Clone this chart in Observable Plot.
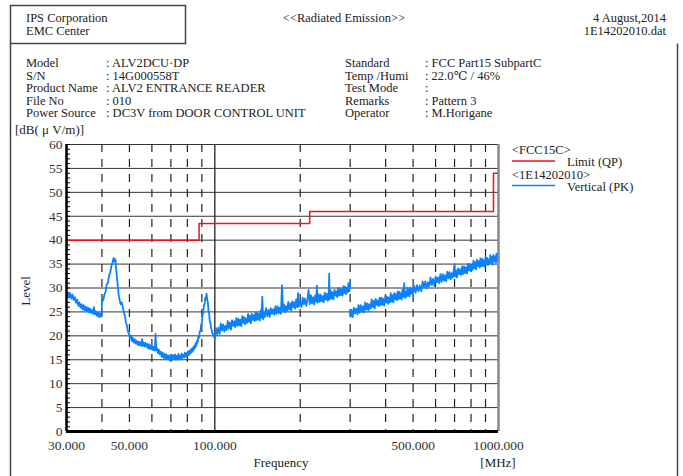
<!DOCTYPE html>
<html>
<head>
<meta charset="utf-8">
<script src="https://cdn.jsdelivr.net/npm/d3@7"></script>
<script src="https://cdn.jsdelivr.net/npm/@observablehq/plot@0.6"></script>
<style>
  html, body { margin: 0; padding: 0; background: #fff; }
  #chart svg { display: block; }
  #chart svg, #chart svg text { font-family: "Times New Roman", "Liberation Serif", Times, "DejaVu Serif", serif !important; }
</style>
</head>
<body>
<div id="chart"></div>
<script>
// ---- Axis ticks ----
const xTickValues = [30, 50, 100, 500, 1000];
const xDashedGrid = [40, 50, 60, 70, 80, 90, 200, 300, 400, 500, 600, 700, 800, 900];
const xSolidGrid = [100];
const yMajor = [0, 5, 10, 15, 20, 25, 30, 35, 40, 45, 50, 55, 60];
const yMinor = d3.range(0, 61, 1);

// ---- FCC Part 15 limit (QP), dBuV/m, held from each frequency to the next ----
const limitFreq = [30, 88, 216, 960, 1000];
const limitLevel = [40, 43.5, 46, 54, 54];

// ---- Vertical (PK) sweep, 30-300 MHz band: [MHz, dBuV/m] ----
const sweepLow = [
  [30.0, 28.2], [30.3, 29.1], [30.6, 28.0], [30.9, 28.9], [31.2, 27.8], [31.5, 28.6],
  [31.8, 27.5], [32.1, 28.1], [32.4, 26.9], [32.7, 27.6], [33.0, 26.3], [33.3, 27.0],
  [33.6, 25.9], [33.9, 26.6], [34.2, 25.5], [34.5, 26.4], [34.8, 25.3], [35.1, 26.1],
  [35.4, 25.2], [35.7, 25.9], [36.0, 24.9], [36.3, 25.7], [36.6, 24.8], [36.9, 25.4],
  [37.2, 24.6], [37.5, 26.0], [37.8, 24.5], [38.1, 25.1], [38.4, 24.2], [38.7, 24.9],
  [39.0, 23.9], [39.3, 24.7], [39.6, 24.0], [39.9, 24.6], [40.05, 27.9], [40.4, 27.4],
  [40.8, 28.6], [41.2, 29.2], [41.6, 30.8], [42.0, 31.1], [42.4, 32.7], [42.8, 33.3],
  [43.2, 34.6], [43.6, 35.4], [44.0, 36.3], [44.3, 35.5], [44.6, 36.0], [45.0, 33.4],
  [45.4, 31.0], [45.8, 28.6], [46.2, 27.4], [46.6, 26.6], [47.0, 27.0], [47.4, 25.9],
  [47.8, 25.0], [48.2, 24.1], [48.6, 22.8], [49.0, 22.2], [49.4, 20.9], [49.8, 20.4],
  [50.2, 19.5], [50.6, 20.1], [51.0, 18.9], [51.4, 19.6], [51.8, 18.6], [52.2, 19.3],
  [52.6, 18.4], [53.0, 19.0], [53.4, 18.1], [53.8, 18.8], [54.2, 18.0], [54.6, 18.7],
  [55.0, 17.9], [55.4, 19.3], [55.8, 17.9], [56.2, 18.6], [56.6, 17.8], [57.0, 18.5],
  [57.4, 17.7], [57.8, 18.3], [58.2, 17.4], [58.6, 18.2], [59.0, 17.3], [59.4, 18.0],
  [59.8, 17.2], [60.2, 17.9], [60.6, 17.0], [61.0, 17.7], [61.4, 16.9], [61.8, 20.4],
  [62.2, 17.0], [62.6, 17.4], [63.0, 16.4], [63.5, 17.1], [64.0, 16.1], [64.5, 16.7],
  [65.0, 15.6], [65.5, 16.5], [66.0, 15.4], [66.5, 16.2], [67.0, 15.2], [67.5, 16.1],
  [68.0, 15.1], [68.5, 15.9], [69.0, 15.0], [69.5, 15.8], [70.0, 15.1], [70.5, 16.0],
  [71.0, 15.0], [71.5, 15.9], [72.0, 15.1], [72.5, 16.1], [73.0, 15.0], [73.5, 15.8],
  [74.0, 15.2], [74.5, 16.2], [75.0, 15.1], [75.5, 15.9], [76.0, 15.3], [76.5, 16.3],
  [77.0, 15.4], [77.5, 16.0], [78.0, 15.5], [78.5, 16.5], [79.0, 15.6], [79.5, 16.4],
  [80.0, 15.8], [80.5, 16.8], [81.0, 16.0], [81.5, 16.9], [82.0, 16.3], [82.5, 17.2],
  [83.0, 16.6], [83.5, 17.5], [84.0, 16.9], [84.5, 17.9], [85.0, 17.3], [85.5, 18.4],
  [86.0, 17.9], [86.5, 19.0], [87.0, 18.6], [87.5, 19.9], [88.0, 19.6], [88.5, 21.0],
  [89.0, 21.0], [89.5, 22.4], [90.0, 22.6], [90.5, 24.3], [91.0, 24.8], [91.5, 26.4],
  [92.0, 26.5], [92.5, 28.0], [93.0, 27.6], [93.5, 28.8], [94.0, 27.6], [94.5, 27.0],
  [95.0, 25.2], [95.5, 24.6], [96.0, 23.0], [96.5, 22.8], [97.0, 21.6], [97.5, 21.2],
  [98.0, 20.6], [98.5, 20.3], [99.0, 19.9], [99.5, 19.8], [100, 19.4],
  [101, 21.6], [102, 20.3], [103, 21.7], [104, 20.4], [105, 22.6], [106, 21.1],
  [107, 22.4], [108, 20.9], [109, 22.1], [110, 21.2], [111, 23.1], [112, 21.5],
  [113, 22.8], [114, 21.3], [115, 23.3], [116, 22.1], [117, 23.0], [118, 21.8],
  [119, 23.7], [120, 22.1], [121, 23.6], [122, 22.2], [123, 23.4], [124, 22.0],
  [125, 24.1], [126, 22.7], [127, 23.9], [128, 22.4], [129, 23.6], [130, 22.7],
  [131, 24.6], [132, 22.9], [133, 24.2], [134, 22.6], [135, 24.6], [136, 23.4],
  [137, 24.3], [138, 23.1], [139, 24.9], [140, 23.3], [141, 24.9], [142, 23.4],
  [143, 24.6], [144, 23.2], [145, 25.3], [146, 23.8], [147, 28.2], [148, 23.5],
  [149, 24.8], [150, 23.9], [151.5, 25.8], [153, 24.1], [154.5, 25.4], [156, 23.9],
  [157.5, 25.8], [159, 24.6], [160.5, 25.6], [162, 24.4], [163.5, 26.2], [165, 24.6],
  [166.5, 26.2], [168, 24.7], [169.5, 25.9], [171, 24.6], [172.5, 30.6], [174, 25.2],
  [175.5, 26.5], [177, 24.9], [178.5, 26.2], [180, 25.3], [181.5, 27.1], [183, 25.5],
  [184.5, 26.8], [186, 25.3], [187.5, 27.2], [189, 26.0], [190.5, 27.0], [192, 25.7],
  [193.5, 27.6], [195, 26.0], [196.5, 28.9], [198, 26.1], [199.5, 27.3], [202, 26.0],
  [204, 28.0], [206, 26.6], [208, 27.8], [210, 26.3], [212, 27.5], [214, 29.6],
  [216, 26.6], [218, 28.5], [220, 26.8], [222, 28.1], [224, 26.5], [226, 28.5],
  [228, 27.2], [229, 30.5], [230, 26.9], [232, 28.7], [234, 27.1], [236, 28.6],
  [238, 27.2], [240, 28.3], [242, 27.0], [244, 29.0], [246, 27.6], [248, 28.8],
  [250, 27.3], [252, 28.5], [253, 33.0], [254, 27.6], [256, 29.5], [258, 27.8],
  [260, 29.1], [262, 27.6], [264, 29.6], [266, 28.4], [268, 29.3], [270, 28.1],
  [272, 30.0], [274, 28.4], [276, 29.9], [278, 28.5], [280, 29.7], [282, 28.4],
  [284, 30.4], [286, 29.0], [288, 30.3], [290, 28.7], [292, 30.0], [294, 29.1],
  [296, 31.0], [298, 29.3], [300, 31.2]
];

// ---- Vertical (PK) sweep, 300-1000 MHz band: [MHz, dBuV/m] ----
const sweepHigh = [
  [300, 25.2], [301.5, 24.0], [303, 25.4], [306, 23.9], [309, 25.9], [312, 24.7],
  [315, 25.7], [318, 24.5], [321, 26.4], [324, 24.8], [327, 26.4], [330, 25.0],
  [333, 26.2], [336, 24.9], [339, 27.0], [342, 25.5], [345, 26.8], [348, 25.3],
  [351, 26.6], [354, 25.7], [357, 27.6], [360, 26.0], [363, 27.3], [366, 25.7],
  [369, 27.7], [372, 26.5], [375, 27.4], [378, 26.2], [381, 28.0], [384, 26.4],
  [387, 28.0], [390, 26.5], [393, 27.7], [396, 26.3], [399, 28.4], [402, 27.0],
  [405, 28.2], [408, 26.7], [411, 28.0], [414, 27.0], [417, 28.9], [420, 27.2],
  [423, 28.5], [426, 27.0], [429, 28.9], [432, 27.7], [435, 28.7], [438, 27.4],
  [441, 29.3], [444, 27.7], [447, 29.2], [450, 27.8], [453, 28.9], [456, 27.6],
  [459, 29.7], [462, 28.2], [465, 31.0], [468, 27.9], [471, 29.2], [474, 28.2],
  [477, 30.1], [480, 28.4], [483, 29.7], [486, 28.2], [489, 30.1], [492, 28.9],
  [495, 29.8], [498, 28.6], [504, 30.5], [510, 29.0], [516, 30.6], [522, 29.3],
  [528, 30.5], [534, 29.3], [540, 31.4], [546, 30.1], [552, 31.4], [558, 29.9],
  [564, 31.2], [570, 30.3], [576, 32.2], [582, 30.6], [588, 31.9], [594, 30.4],
  [600, 32.4], [606, 31.2], [612, 32.2], [618, 31.0], [624, 32.9], [630, 31.3],
  [636, 32.9], [642, 31.5], [648, 32.7], [654, 31.4], [660, 33.4], [666, 32.0],
  [672, 33.3], [678, 31.8], [684, 33.1], [690, 32.2], [696, 34.0], [700, 35.0],
  [702, 32.4], [708, 33.7], [714, 32.2], [720, 34.1], [726, 32.9], [732, 33.9],
  [738, 32.7], [744, 34.5], [750, 32.9], [756, 34.5], [762, 33.1], [768, 34.3],
  [774, 33.0], [780, 35.1], [786, 33.7], [792, 35.0], [798, 33.5], [804, 34.8],
  [810, 33.8], [816, 35.7], [822, 34.1], [828, 35.4], [834, 33.9], [840, 35.9],
  [846, 34.6], [852, 35.6], [858, 34.3], [864, 36.2], [870, 34.5], [876, 36.1],
  [882, 34.6], [888, 35.8], [894, 34.4], [900, 36.5], [906, 35.1], [912, 36.3],
  [918, 34.8], [924, 36.0], [930, 35.1], [936, 36.9], [942, 35.3], [948, 36.5],
  [954, 34.9], [960, 36.9], [966, 35.6], [972, 36.6], [978, 35.3], [984, 37.2],
  [990, 35.5], [996, 37.1], [1000, 36.0]
];

// ---- Report header and test conditions ----
const headerLeft = ["IPS Corporation", "EMC Center"];
const headerTitle = "<<Radiated Emission>>";
const headerRight = ["4 August,2014", "1E14202010.dat"];
const infoLabelsLeft = ["Model", "S/N", "Product Name", "File No", "Power Source"];
const infoValuesLeft = [": ALV2DCU\u00B7DP", ": 14G000558T", ": ALV2 ENTRANCE READER", ": 010", ": DC3V from DOOR CONTROL UNIT"];
const infoLabelsRight = ["Standard", "Temp /Humi", "Test Mode", "Remarks", "Operator"];
const infoValuesRight = [": FCC Part15 SubpartC", ": 22.0\u2103 / 46%", ":", ": Pattern 3", ": M.Horigane"];
const legendItems = [
  {group: "<FCC15C>", name: "Limit (QP)", color: "#e8141e"},
  {group: "<1E14202010>", name: "Vertical (PK)", color: "#0a82ff"}
];

const limitTable = limitFreq.map((f, i) => ({freq: f, level: limitLevel[i]}));
const toRows = (arr) => arr.map(([freq, level]) => ({freq, level}));

const FONT = "'Times New Roman', 'Liberation Serif', Times, 'DejaVu Serif', serif";
const W = 683, H = 476;

const svg = Plot.plot({
  width: W,
  height: H,
  marginLeft: 66,
  marginRight: 185,
  marginTop: 144,
  marginBottom: 45,
  style: {fontFamily: FONT, fontSize: "13.5px", color: "#333", background: "#fff", overflow: "visible"},
  x: {type: "log", domain: [30, 1000]},
  y: {domain: [0, 60]},
  marks: [
    // grid
    Plot.ruleY(yMajor, {stroke: "#333", strokeWidth: 1, strokeOpacity: 1}),
    Plot.ruleX(xDashedGrid, {stroke: "#222", strokeWidth: 1.2, strokeDasharray: "8,7"}),
    Plot.ruleX(xSolidGrid, {stroke: "#222", strokeWidth: 1.3}),
    // minor ticks inside the left axis
    Plot.axisY({ticks: yMinor, tickSize: 4, dx: 4, tickFormat: () => "", label: null, stroke: "#000"}),
    Plot.axisY({ticks: yMajor, tickSize: 0, tickPadding: 4, label: null, fill: "#333", fontSize: 13.5}),
    Plot.axisX({ticks: xTickValues, tickSize: 0, tickPadding: 9, tickFormat: d => d.toFixed(3), label: null, fill: "#333", fontSize: 13.5}),
    // limit and measured traces
    Plot.line(limitTable, {x: "freq", y: "level", curve: "step-after", stroke: legendItems[0].color, strokeWidth: 1.5}),
    Plot.line(toRows(sweepLow), {x: "freq", y: "level", stroke: legendItems[1].color, strokeWidth: 1.8}),
    Plot.line(toRows(sweepHigh), {x: "freq", y: "level", stroke: legendItems[1].color, strokeWidth: 1.8}),
    // plot frame
    Plot.ruleX([1000], {stroke: "#888", strokeWidth: 2.5}),
    Plot.ruleX([30], {stroke: "#000", strokeWidth: 2.5}),
    Plot.ruleY([0], {stroke: "#000", strokeWidth: 3})
  ]
});

const root = d3.select(svg);

function txt(x, y, s, opts = {}) {
  return root.append("text")
    .attr("x", x).attr("y", y)
    .attr("text-anchor", opts.anchor || "start")
    .attr("transform", opts.transform || null)
    .style("font-family", FONT)
    .style("font-size", (opts.size || 12.5) + "px")
    .style("fill", opts.fill || "#222")
    .text(s);
}

// page frame and company box
const frame = root.append("g").attr("fill", "none").attr("stroke", "#444").attr("stroke-width", 1.5);
frame.append("rect").attr("x", 10.5).attr("y", 5.5).attr("width", 175).attr("height", 38);
frame.append("line").attr("x1", 10.5).attr("x2", 10.5).attr("y1", 43.5).attr("y2", H);
frame.append("line").attr("x1", 677.5).attr("x2", 677.5).attr("y1", 43.5).attr("y2", H);

// header
headerLeft.forEach((s, i) => txt(26, 22 + i * 13, s));
txt(344, 22, headerTitle, {anchor: "middle"});
headerRight.forEach((s, i) => txt(666, 22 + i * 13, s, {anchor: "end"}));

// test conditions
infoLabelsLeft.forEach((s, i) => txt(26, 67 + i * 12.5, s));
infoValuesLeft.forEach((s, i) => txt(106, 67 + i * 12.5, s));
infoLabelsRight.forEach((s, i) => txt(345, 67 + i * 12.5, s));
infoValuesRight.forEach((s, i) => txt(425, 67 + i * 12.5, s));

// axis titles
txt(15, 134, "[dB( \u03BC V/m)]", {size: 13});
txt(0, 0, "Level", {anchor: "middle", size: 13, transform: "translate(30,291) rotate(-90)"});
txt(281, 467, "Frequency", {anchor: "middle", size: 13});
txt(498, 467, "[MHz]", {anchor: "middle", size: 13});

// legend
legendItems.forEach((d, i) => {
  const y0 = 154 + i * 24.5;
  txt(512, y0, d.group, {size: 12.5});
  root.append("line").attr("x1", 512).attr("x2", 555).attr("y1", y0 + 7).attr("y2", y0 + 7)
    .attr("stroke", d.color).attr("stroke-width", 1.5);
  txt(567, y0 + 12, d.name, {size: 12.5});
});

document.getElementById("chart").appendChild(svg);
</script>
</body>
</html>
